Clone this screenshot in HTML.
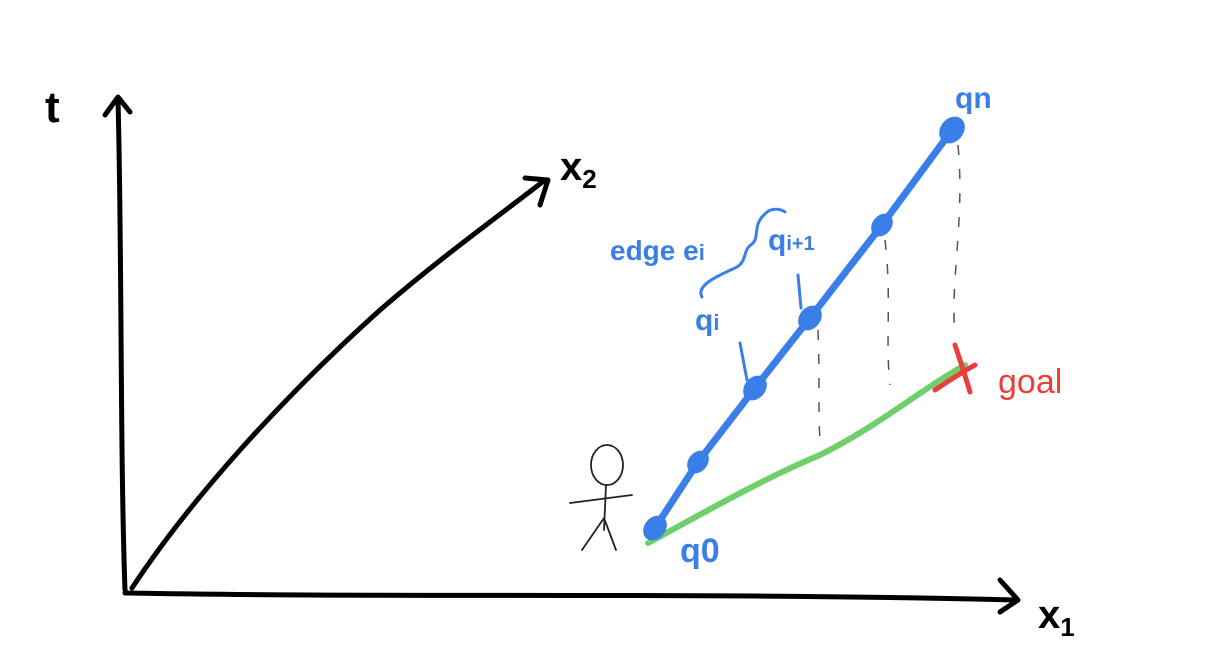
<!DOCTYPE html>
<html><head><meta charset="utf-8"><style>
html,body{margin:0;padding:0;background:#fff;width:1222px;height:658px;overflow:hidden}
svg{display:block}
text{font-family:"Liberation Sans",sans-serif}
</style></head><body>
<svg id="s" width="1222" height="658" viewBox="0 0 1222 658">
<g stroke="#000" stroke-width="5" fill="none" stroke-linecap="round" stroke-linejoin="round">
<path d="M125,590 C120,450 122,250 118,100 M105,115 L118,97 L130,112"/>
<path d="M125,593 C400,598 700,592 1015,600 M1000,580 L1018,600 L1000,612"/>
<path d="M132,588 C190,500 280,400 380,310 C440,258 500,215 545,180 M525,178 L548,180 L540,205"/>
</g>
<text x="45" y="122" font-size="44" font-weight="bold">t</text>
<text x="1038" y="628" font-size="40" font-weight="bold">x<tspan font-size="26" dy="8">1</tspan></text>
<text x="560" y="180" font-size="40" font-weight="bold">x<tspan font-size="26" dy="8">2</tspan></text>
<g stroke="#555" stroke-width="1.5" stroke-dasharray="10,14" fill="none">
<path d="M958,145 C965,220 950,280 955,335"/>
<path d="M885,240 C892,300 885,340 890,385"/>
<path d="M818,330 C820,380 818,410 820,440"/>
</g>
<path d="M648,543 C700,515 760,480 820,455 C880,425 920,390 965,365" stroke="#6fcf6a" stroke-width="6" fill="none" stroke-linecap="round"/>
<g id="blue" stroke="#3a7fe8" fill="#3a7fe8"></g>
<g stroke="#e8413c" stroke-width="5" stroke-linecap="round" fill="none">
<path d="M955,345 C960,360 965,375 970,392 M935,390 C950,380 962,372 975,365"/>
</g>
<text x="998" y="393" font-size="34" fill="#e8413c">goal</text>
<g fill="#3a7fe8" font-size="30" font-weight="bold">
<text x="955" y="108">qn</text>
<text x="610" y="260" font-size="28">edge e<tspan font-size="22">i</tspan></text>
<text x="768" y="250">q<tspan font-size="20">i+1</tspan></text>
<text x="695" y="330">q<tspan font-size="22">i</tspan></text>
<text x="680" y="562" font-size="34">q0</text>
</g>
<g stroke="#3a7fe8" stroke-width="3" fill="none" stroke-linecap="round">
<path d="M798,275 L801,308"/>
<path d="M740,343 L747,380"/>
<path d="M702,297 C695,285 720,275 735,268 C748,262 742,250 752,244 C760,238 752,225 765,214 C770,208 780,208 785,212"/>
</g>
<g stroke="#222" stroke-width="1.8" fill="none" stroke-linecap="round">
<ellipse cx="607" cy="465" rx="16" ry="20"/>
<path d="M606,485 L604,530 M570,503 L632,495 M604,518 L582,550 M604,518 L616,550"/>
</g>
<script>
var nodeX = [655, 698, 755, 810, 882, 952];
var nodeY = [528, 462, 388, 318, 225, 130];
var nodeSize = [10, 9, 10, 10, 9, 11];
var g = document.getElementById('blue');
var ns = 'http://www.w3.org/2000/svg';
var d = '';
for (var i = 0; i < nodeX.length; i++) d += (i ? 'L' : 'M') + nodeX[i] + ',' + nodeY[i];
var p = document.createElementNS(ns, 'path');
p.setAttribute('d', d);
p.setAttribute('fill', 'none');
p.setAttribute('stroke-width', '7');
p.setAttribute('stroke-linecap', 'round');


g.appendChild(p);
for (var j = 0; j < nodeX.length; j++) {
  var c = document.createElementNS(ns, 'ellipse');
  c.setAttribute('cx', nodeX[j]);
  c.setAttribute('cy', nodeY[j]);
  c.setAttribute('rx', nodeSize[j] + 3);
  c.setAttribute('ry', nodeSize[j]);
  c.setAttribute('transform', 'rotate(-50 ' + nodeX[j] + ' ' + nodeY[j] + ')');
  
  
  g.appendChild(c);
}
</script>
</svg>
</body></html>
